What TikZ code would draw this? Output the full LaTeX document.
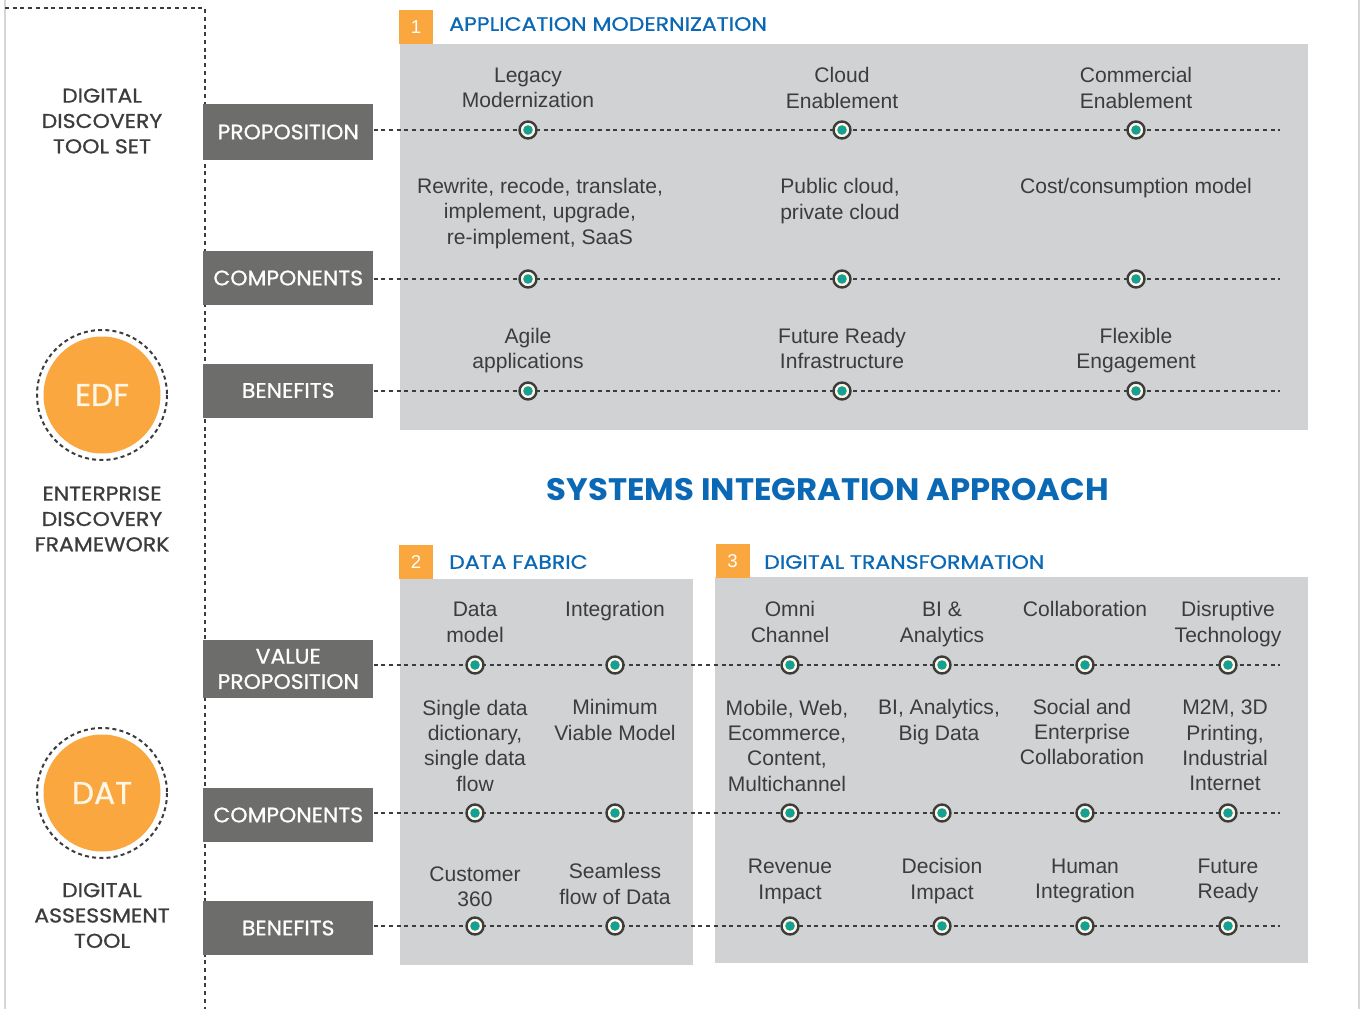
\documentclass[tikz,border=0pt]{standalone}
\usepackage{fontspec}
\setmainfont{Liberation Sans}
\newfontfamily\headfont[FakeBold=0.8]{Poppins}
\newfontfamily\labelfont[FakeBold=0.8, FakeStretch=1.04]{Poppins}
\newfontfamily\sidefont[FakeBold=0.9, FakeStretch=1.1]{Poppins}
\newfontfamily\sectfont[FakeBold=0.9, FakeStretch=1.14]{Poppins}
\newfontfamily\bigfont[FakeStretch=1.04]{Poppins}
\usetikzlibrary{positioning}

\definecolor{inkgray}{HTML}{3C3C3C}
\definecolor{boxgray}{HTML}{6D6D6B}
\definecolor{panelgray}{HTML}{D1D2D4}
\definecolor{accent}{HTML}{F9A73E}
\definecolor{titleblue}{HTML}{0A68B4}
\definecolor{dotteal}{HTML}{16A093}
\definecolor{edgegray}{HTML}{D6D6D6}
\definecolor{cream}{HTML}{FFF6E6}

\tikzset{
  panel/.style={fill=panelgray, draw=none},
  rowlabel/.style={fill=boxgray, text=white, font=\labelfont\fontsize{15.8}{18.5}\selectfont,
    minimum width=170*0.75pt, minimum height=56*0.75pt, inner sep=0pt, align=center, anchor=west},
  badge/.style={fill=accent, text=white, font=\fontsize{14}{16}\selectfont,
    minimum width=34*0.75pt, minimum height=34*0.75pt, inner sep=0pt},
  sectiontitle/.style={text=titleblue, font=\sectfont\fontsize{14.5}{16}\selectfont, anchor=west, inner sep=0pt},
  item/.style={text=inkgray, font=\fontsize{15.8}{19}\selectfont, align=center, inner sep=0pt},
  sidetext/.style={text=inkgray, font=\sidefont\fontsize{15}{19}\selectfont, align=center, inner sep=0pt},
  rowline/.style={draw=inkgray, line width=1.4pt, dash pattern=on 3pt off 2.8pt},
  frameline/.style={draw=inkgray, line width=1.6pt, dash pattern=on 3pt off 2.8pt},
  marker/.style={circle, draw=inkgray, line width=1.8pt, fill=cream, minimum size=17*0.75pt, inner sep=0pt,
    path picture={\fill[dotteal] (path picture bounding box.center) circle (4.8*0.75pt);}},
  hub/.style={circle, fill=accent, text=cream, minimum size=117*0.75pt, inner sep=0pt,
    font=\headfont\fontsize{23.5}{25}\selectfont},
  hubring/.style={draw=inkgray, line width=1.5pt, dash pattern=on 3pt off 2.4pt},
}

\begin{document}
\begin{tikzpicture}[x=0.75pt, y=-0.75pt]
\useasboundingbox (0,0) rectangle (1360,1009);

% page edges
\draw[edgegray, line width=1.5pt] (5,0) -- (5,1009);
\draw[edgegray, line width=0.8pt] (1359,0) -- (1359,1009);

% left frame of the tool column
\coordinate (fa) at (5,8);
\coordinate (fb) at (205,8);
\coordinate (fc) at (205,1009);
\draw[frameline] (fa) -- (fb) -- (fc);

% panels
\fill[panel] (400,44) rectangle (1308,430);
\fill[panel] (400,579) rectangle (693,965);
\fill[panel] (715,577) rectangle (1308,963);

% section headers
\node[badge] (b1) at (416,27) {1};
\node[sectiontitle] (t1) at (449,24) {APPLICATION MODERNIZATION};
\node[badge] (b2) at (416,562) {2};
\node[sectiontitle] (t2) at (449,562) {DATA FABRIC};
\node[badge] (b3) at (732.5,561) {3};
\node[sectiontitle] (t3) at (764,562) {DIGITAL TRANSFORMATION};

\node[text=titleblue, font=\bigfont\bfseries\fontsize{23.3}{26}\selectfont, inner sep=0pt]
  (main) at (828,490) {SYSTEMS INTEGRATION APPROACH};

% row labels
\node[rowlabel] (l1) at (203,132) {PROPOSITION};
\node[rowlabel, minimum height=54*0.75pt] (l2) at (203,278) {COMPONENTS};
\node[rowlabel, minimum height=54*0.75pt] (l3) at (203,390.5) {BENEFITS};
\node[rowlabel, minimum height=58*0.75pt, font=\labelfont\fontsize{15.8}{19}\selectfont] (l4) at (203,669) {VALUE\\PROPOSITION};
\node[rowlabel, minimum height=54*0.75pt] (l5) at (203,815) {COMPONENTS};
\node[rowlabel, minimum height=54*0.75pt] (l6) at (203,928) {BENEFITS};

% row end points
\coordinate (e1) at (1280,130);
\coordinate (e2) at (1280,279);
\coordinate (e3) at (1280,391);
\coordinate (e4) at (1280,665);
\coordinate (e5) at (1280,813);
\coordinate (e6) at (1280,926);

\draw[rowline] (l1.east |- e1) -- (e1);
\draw[rowline] (l2.east |- e2) -- (e2);
\draw[rowline] (l3.east |- e3) -- (e3);
\draw[rowline] (l4.east |- e4) -- (e4);
\draw[rowline] (l5.east |- e5) -- (e5);
\draw[rowline] (l6.east |- e6) -- (e6);

% markers, section 1
\foreach \x/\n in {528/a, 842/b, 1136/c} {
  \node[marker] (m1\n) at (\x,130) {};
  \node[marker] (m2\n) at (\x,279) {};
  \node[marker] (m3\n) at (\x,391) {};
}
% markers, sections 2 and 3
\foreach \x/\n in {475/a, 615/b, 790/c, 942/d, 1085/e, 1228/f} {
  \node[marker] (m4\n) at (\x,665) {};
  \node[marker] (m5\n) at (\x,813) {};
  \node[marker] (m6\n) at (\x,926) {};
}

% section 1 texts
\node[item] (p1a) at (528,88) {Legacy\\Modernization};
\node[item] (p1b) at (842,88) {Cloud\\Enablement};
\node[item] (p1c) at (1136,88) {Commercial\\Enablement};
\node[item] (c1a) at (540,213.5) {Rewrite, recode, translate,\\implement, upgrade,\\re-implement, SaaS};
\node[item] (c1b) at (840,201) {Public cloud,\\private cloud};
\node[item] (c1c) at (1136,188) {Cost/consumption model};
\node[item] (g1a) at (528,350.5) {Agile\\applications};
\node[item] (g1b) at (842,348.5) {Future Ready\\Infrastructure};
\node[item] (g1c) at (1136,350.5) {Flexible\\Engagement};

% sections 2 and 3 texts
\node[item] (p2a) at (475,622.5) {Data\\model};
\node[item] (p2b) at (615,611) {Integration};
\node[item] (p3a) at (790,622) {Omni\\Channel};
\node[item] (p3b) at (942,624.5) {BI \&\\Analytics};
\node[item] (p3c) at (1085,609) {Collaboration};
\node[item] (p3d) at (1228,624) {Disruptive\\Technology};

\node[item] (c2a) at (475,745.5) {Single data\\dictionary,\\single data\\flow};
\node[item] (c2b) at (615,720) {Minimum\\Viable Model};
\node[item] (c3a) at (787,745.5) {Mobile, Web,\\Ecommerce,\\Content,\\Multichannel};
\node[item] (c3b) at (939,722) {BI, Analytics,\\Big Data};
\node[item] (c3c) at (1082,732) {Social and\\Enterprise\\Collaboration};
\node[item] (c3d) at (1225,745.5) {M2M, 3D\\Printing,\\Industrial\\Internet};

\node[item] (g2a) at (475,886.5) {Customer\\360};
\node[item] (g2b) at (615,884) {Seamless\\flow of Data};
\node[item] (g3a) at (790,881.5) {Revenue\\Impact};
\node[item] (g3b) at (942,881) {Decision\\Impact};
\node[item] (g3c) at (1085,881) {Human\\Integration};
\node[item] (g3d) at (1228,881) {Future\\Ready};

% tool column
\node[sidetext] (s1) at (102,121) {DIGITAL\\DISCOVERY\\TOOL SET};
\draw[hubring] (102,395) circle (65);
\node[hub] (edf) at (102,395) {EDF};
\node[sidetext] (s2) at (102,519) {ENTERPRISE\\DISCOVERY\\FRAMEWORK};
\draw[hubring] (102,793) circle (65);
\node[hub] (dat) at (102,793) {DAT};
\node[sidetext] (s3) at (102,915.5) {DIGITAL\\ASSESSMENT\\TOOL};
\end{tikzpicture}
\end{document}
